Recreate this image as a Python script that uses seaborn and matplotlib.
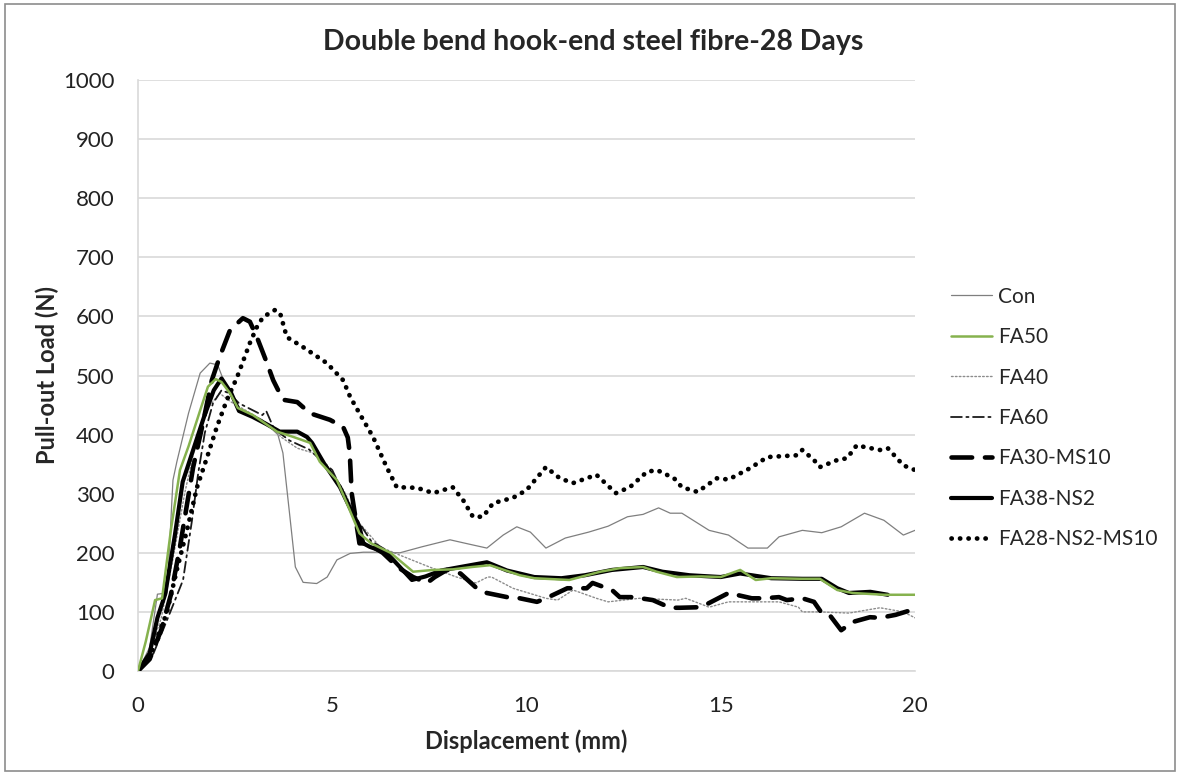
import numpy as np
import pandas as pd
import matplotlib
matplotlib.use('Agg')
import matplotlib.pyplot as plt
import seaborn as sns
from matplotlib.patches import Rectangle

# Pull-out curves (displacement in mm, load in N)
con_x = [0, 0.3, 0.5, 0.75, 0.9, 1.0, 1.3, 1.6, 1.85, 2.05, 2.3, 2.6, 3.2, 3.6, 3.73, 3.9, 4.05, 4.25,
         4.6, 4.87, 5.12, 5.46, 5.8, 6.3, 6.74, 7.3, 8.03, 8.5, 8.98, 9.4, 9.75, 10.1, 10.5, 11.0, 11.6, 12.1,
         12.6, 13.0, 13.4, 13.7, 14.0, 14.7, 15.2, 15.7, 16.2, 16.5, 17.1, 17.6, 18.1, 18.7, 19.2, 19.7, 20]
con_y = [0, 40, 130, 132, 323, 354, 436, 504, 521, 518, 475, 445, 425, 400, 369, 267, 176, 150,
         148, 159, 188, 199, 201, 201, 200, 210, 222, 215, 208, 230, 244, 235, 208, 225, 235, 245,
         261, 265, 276, 267, 267, 238, 230, 208, 208, 227, 238, 234, 244, 267, 255, 230, 238]

fa50_x = [0, 0.2, 0.44, 0.62, 0.85, 1.08, 1.3, 1.6, 1.8, 2.0, 2.15, 2.37, 2.57, 2.96, 3.58, 4.0, 4.43, 4.68,
          5.12, 5.4, 5.7, 6.0, 6.5, 7.08, 7.6, 8.1, 8.6, 9.06, 9.83, 10.2, 11.1, 11.9, 12.4, 13.0, 13.35, 13.87,
          14.5, 15.0, 15.5, 15.9, 16.3, 17.1, 17.55, 18.0, 18.4, 19.2, 20]
fa50_y = [0, 50, 120, 123, 240, 340, 380, 441, 481, 494, 489, 470, 445, 433, 405, 396, 386, 354,
          323, 280, 233, 216, 200, 168, 171, 172, 176, 179, 162, 157, 154, 168, 174, 176, 168, 159,
          160, 159, 171, 154, 157, 156, 156, 137, 132, 129, 129]

fa40_x = [0, 0.3, 0.6, 0.9, 1.2, 1.5, 1.8, 2.1, 2.4, 2.8, 3.3, 3.7, 4.1, 4.5, 4.9, 5.3, 5.7, 6.23,
          6.74, 7.5, 8.2, 8.7, 9.0, 9.1, 9.65, 10.5, 10.8, 11.2, 11.8, 12.1, 12.9, 13.9, 14.1, 14.7, 15.2, 16.5,
          17.0, 17.1, 17.55, 18.3, 19.1, 19.7, 20]
fa40_y = [0, 30, 90, 190, 300, 390, 445, 470, 455, 440, 420, 395, 377, 369, 345, 305, 250, 210,
          196, 176, 159, 149, 159, 159, 140, 123, 120, 137, 123, 117, 123, 120, 123, 108, 117, 117,
          108, 100, 100, 98, 107, 100, 90]

fa60_x = [0, 0.4, 0.82, 1.16, 1.39, 1.55, 1.72, 1.93, 2.15, 2.35, 2.6, 3.2, 3.3, 3.5, 3.9, 4.4, 5.0, 5.5, 6.0, 6.5]
fa60_y = [0, 30, 98, 154, 255, 335, 403, 453, 475, 470, 453, 433, 440, 410, 390, 375, 340, 270, 220, 200]

fa30_x = [0, 0.3, 0.6, 0.85, 1.08, 1.42, 1.65, 1.9, 2.1, 2.37, 2.7, 2.88, 3.06, 3.32, 3.48, 3.73, 4.1, 4.43,
          4.94, 5.28, 5.4, 5.45, 5.5, 5.7, 5.9, 6.3, 6.7, 7.08, 7.44, 7.64, 7.95, 8.3, 8.72, 8.98, 9.5, 9.83,
          10.27, 10.5, 11.05, 11.55, 11.7, 12.2, 12.4, 12.74, 13.25, 13.7, 13.95, 14.5, 14.7, 15.2, 15.8, 16.1,
          16.5, 16.7, 17.1, 17.4, 17.6, 17.8, 18.1, 18.4, 18.84, 19.1, 19.5, 19.9, 20]
fa30_y = [0, 20, 70, 130, 210, 345, 413, 492, 531, 577, 597, 591, 565, 521, 492, 459, 455, 436,
          425, 413, 395, 369, 301, 216, 216, 200, 175, 159, 149, 159, 171, 165, 140, 132, 125, 123,
          117, 123, 140, 140, 149, 137, 125, 125, 120, 107, 107, 108, 115, 132, 123, 123,
          125, 120, 123, 117, 98, 95, 69, 83, 91, 90, 95, 103, 107]

fa38_x = [0, 0.3, 0.5, 0.7, 0.95, 1.15, 1.4, 1.7, 1.95, 2.15, 2.4, 2.6, 2.95, 3.3, 3.65, 4.1, 4.35, 4.48,
          4.8, 5.2, 5.5, 5.7, 5.8, 5.97, 6.4, 6.74, 7.05, 7.4, 7.8, 8.3, 8.98, 9.5, 10.2, 10.9, 11.5, 12.2,
          13.0, 13.5, 14.2, 15.0, 15.5, 16.3, 17.1, 17.6, 18.0, 18.3, 18.85, 19.3]
fa38_y = [0, 30, 90, 130, 230, 320, 370, 430, 475, 495, 470, 440, 430, 418, 405, 405, 396, 386,
          350, 311, 270, 244, 216, 210, 200, 176, 154, 160, 170, 176, 184, 170, 159, 157, 162, 171,
          176, 168, 162, 159, 165, 157, 156, 156, 140, 132, 134, 129]

fa28_x = [0, 0.3, 0.74, 1.0, 1.26, 1.52, 1.78, 2.03, 2.29, 2.55, 2.88, 3.06, 3.22, 3.53, 3.66, 3.83, 4.25, 4.86,
          5.28, 5.46, 5.7, 6.05, 6.4, 6.66, 7.18, 7.6, 8.1, 8.37, 8.62, 8.88, 9.14, 9.65, 10.0, 10.5, 10.86, 11.2,
          11.8, 12.3, 12.66, 13.1, 13.36, 13.8, 14.0, 14.4, 14.9, 15.2, 15.75, 16.2, 16.96, 17.1, 17.4, 17.55,
          18.0, 18.25, 18.5, 18.7, 19.1, 19.3, 19.7, 20]
fa28_y = [0, 24, 98, 171, 238, 311, 362, 413, 459, 497, 555, 582, 599, 611, 605, 565, 548, 521,
          492, 464, 436, 396, 345, 311, 310, 301, 311, 289, 261, 261, 284, 293, 306, 345, 326, 318,
          332, 301, 311, 337, 340, 326, 311, 303, 326, 324, 343, 362, 365, 374, 357, 345,
          357, 360, 382, 379, 374, 377, 348, 340]

labels = ["Con", "FA50", "FA40", "FA60", "FA30-MS10", "FA38-NS2", "FA28-NS2-MS10"]
series = [(con_x, con_y), (fa50_x, fa50_y), (fa40_x, fa40_y), (fa60_x, fa60_y),
          (fa30_x, fa30_y), (fa38_x, fa38_y), (fa28_x, fa28_y)]

styles = {
    "Con": dict(color="#7f7f7f", lw=0.9, ls="-", zorder=3),
    "FA50": dict(color="#86b24e", lw=1.8, ls="-", zorder=8),
    "FA40": dict(color="#8c8c8c", lw=1.0, ls=(0, (1.2, 1.6)), zorder=3),
    "FA60": dict(color="#1a1a1a", lw=1.3, ls=(0, (6, 2.5, 1.2, 2.5)), zorder=4),
    "FA30-MS10": dict(color="black", lw=3.3, ls=(0, (4.5, 2.8)), zorder=5),
    "FA38-NS2": dict(color="black", lw=3.0, ls="-", zorder=6),
    "FA28-NS2-MS10": dict(color="black", lw=3.4, ls=(0, (0.05, 1.75)), zorder=7),
}

sns.set_theme(style="white")
plt.rcParams['font.family'] = ['Lato', 'DejaVu Sans']

fig, ax = plt.subplots(figsize=(11.79, 7.73), dpi=100)
fig.subplots_adjust(left=138 / 1179, right=915 / 1179, bottom=(773 - 671) / 773, top=(773 - 80) / 773)

for name, (xs, ys) in zip(labels, series):
    df = pd.DataFrame({"x": xs, "y": ys})
    st = styles[name]
    sns.lineplot(data=df, x="x", y="y", ax=ax, sort=False, estimator=None, label=name,
                 color=st["color"], linewidth=st["lw"], linestyle=st["ls"], zorder=st["zorder"],
                 solid_capstyle="round", dash_capstyle="round")

ax.set_xlim(0, 20)
ax.set_ylim(0, 1000)
ax.set_xticks([0, 5, 10, 15, 20])
ax.set_yticks(np.arange(0, 1001, 100))
ax.yaxis.grid(True, color="#d9d9d9", lw=1.2)
ax.xaxis.grid(False)
for side in ["top", "right"]:
    ax.spines[side].set_visible(False)
ax.spines["left"].set_color("#d9d9d9")
ax.spines["bottom"].set_color("#d9d9d9")
ax.spines["left"].set_linewidth(1.2)
ax.spines["bottom"].set_linewidth(1.2)
ax.tick_params(axis="both", length=0, labelsize=16, colors="#222222")
ax.tick_params(axis="x", pad=18)
ax.tick_params(axis="y", pad=17)

ax.set_xlabel("Displacement (mm)", fontsize=17, fontweight="bold", labelpad=10)
ax.set_ylabel("Pull-out Load (N)", fontsize=17, fontweight="bold", labelpad=3)
fig.text(593 / 1179, 1 - 42 / 773, "Double bend hook-end steel fibre-28 Days",
         ha="center", va="center", fontsize=20.5, fontweight="bold")

ax.get_legend().remove()
handles, lbls = ax.get_legend_handles_labels()
fig.legend(handles, lbls, loc="upper left", bbox_to_anchor=(932 / 1179, 1 - 268 / 773),
           frameon=False, fontsize=15, handlelength=2.0, labelspacing=0.98, handletextpad=0.25)

fig.patches.append(Rectangle((5 / 1179, 0.002), 1 - 9 / 1179, 1 - 6 / 773, transform=fig.transFigure,
                             fill=False, edgecolor="#8c8c8c", lw=1.2))

fig.savefig("out.png", dpi=100)
